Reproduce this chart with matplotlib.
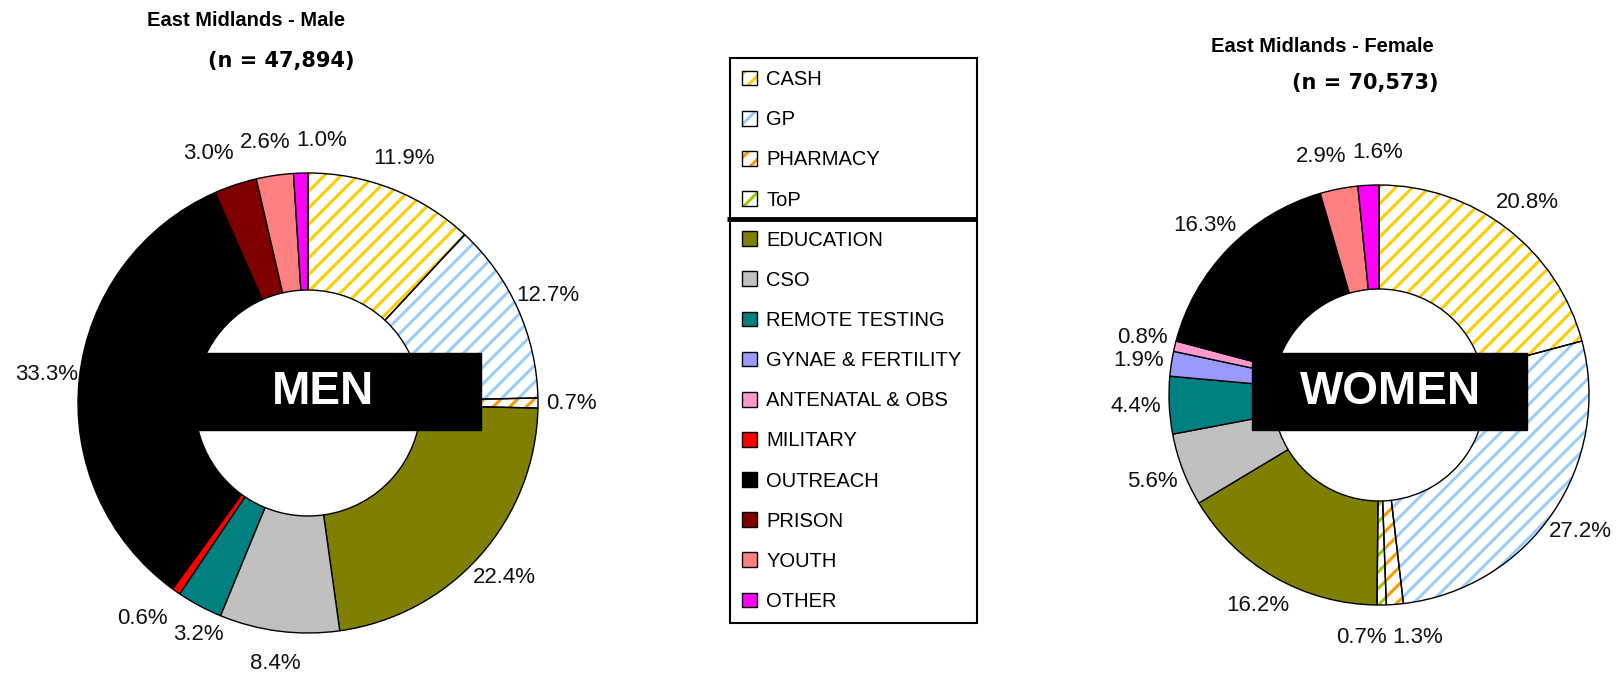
import numpy as np
import matplotlib
matplotlib.use("Agg")
import matplotlib.pyplot as plt
import matplotlib.patches as mpatches

plt.rcParams['font.family'] = ['Liberation Sans', 'DejaVu Sans']
plt.rcParams['hatch.linewidth'] = 2.2

# data
categories = ["CASH", "GP", "PHARMACY", "ToP", "EDUCATION", "CSO", "REMOTE TESTING",
              "GYNAE & FERTILITY", "ANTENATAL & OBS", "MILITARY", "OUTREACH",
              "PRISON", "YOUTH", "OTHER"]
male_pct = [11.9, 12.7, 0.7, 0.0, 22.4, 8.4, 3.2, 0.0, 0.0, 0.6, 33.3, 3.0, 2.6, 1.0]
female_pct = [20.8, 27.2, 1.3, 0.7, 16.2, 5.6, 4.4, 1.9, 0.8, 0.0, 16.3, 0.0, 2.9, 1.6]
male_title = ["East Midlands - Male", "(n = 47,894)"]
female_title = ["East Midlands - Female", "(n = 70,573)"]

colors = ["#FFCC00", "#99CCFF", "#FF9900", "#99CC00", "#808000", "#C0C0C0", "#008080",
          "#9999FF", "#FF99CC", "#FF0000", "#000000", "#800000", "#FF8080", "#FF00FF"]
hatched = [True, True, True, True] + [False] * 10

W, H = 1623, 682

fig = plt.figure(figsize=(W / 100, H / 100), dpi=100)
ax = fig.add_axes([0, 0, 1, 1])


def draw_donut(ax, values, center, radius, inner):
    """Excel-style doughnut: clockwise from 12 o'clock, returns label anchors"""
    idx = [i for i, v in enumerate(values) if v > 0]
    vals = [values[i] for i in idx]
    wedges, _ = ax.pie(vals, colors=[colors[i] for i in idx], startangle=90,
                       counterclock=False, radius=radius, center=center,
                       wedgeprops=dict(width=radius - inner, edgecolor='black', linewidth=1))
    labels = []
    for w, i in zip(wedges, idx):
        if hatched[i]:
            w.set_facecolor('white')
            w.set_edgecolor(colors[i])
            w.set_hatch('//')
            w.set_linewidth(0)
            ax.add_patch(mpatches.Wedge(w.center, w.r, w.theta1, w.theta2, width=w.width,
                                        fill=False, edgecolor='black', linewidth=1))
        ang = np.deg2rad((w.theta1 + w.theta2) / 2)
        t = ax.text(0, 0, f"{values[i]:.1f}%", ha='center', va='center',
                    fontsize=16, color='#111111')
        labels.append((t, np.cos(ang), np.sin(ang), center, radius))
    return labels


def place_labels(labels, gap=33, pad=6):
    """put each label just outside the ring, then push overlapping ones apart"""
    fig.canvas.draw()
    r = fig.canvas.get_renderer()
    boxes = []
    for t, ux, uy, c, rad in labels:
        bb = t.get_window_extent(r)
        boxes.append([c[0] + ux * (rad + gap), c[1] + uy * (rad + gap),
                      bb.width, bb.height * 0.8, abs(uy)])
    for _ in range(80):
        moved = False
        for a in range(len(boxes)):
            for b in range(a + 1, len(boxes)):
                xa, ya, wa, ha, va = boxes[a]
                xb, yb, wb, hb, vb = boxes[b]
                ox = (wa + wb) / 2 + pad - abs(xa - xb)
                oy = (ha + hb) / 2 + pad - abs(ya - yb)
                if ox > 0 and oy > 0:
                    moved = True
                    if (va + vb) / 2 > 0.7:
                        # top / bottom of the ring: spread sideways
                        s = 1 if xa < xb else -1
                        boxes[a][0] -= s * ox / 2
                        boxes[b][0] += s * ox / 2
                    else:
                        s = 1 if ya < yb else -1
                        boxes[a][1] -= s * oy / 2
                        boxes[b][1] += s * oy / 2
        if not moved:
            break
    for (t, *_), (x, y, *_) in zip(labels, boxes):
        t.set_position((x, y))


male_labels = draw_donut(ax, male_pct, (308, H - 403), 230, 113)
female_labels = draw_donut(ax, female_pct, (1379, H - 395), 210, 106)

ax.set_xlim(0, W)
ax.set_ylim(0, H)
ax.set_aspect('equal')
ax.axis('off')

place_labels(male_labels)
place_labels(female_labels)

# titles
ax.text(246, H - 21, male_title[0], ha='center', va='center', fontsize=14.5, fontweight='bold')
ax.text(281, H - 61, male_title[1], ha='center', va='center', fontsize=15, fontweight='bold',
        family='DejaVu Sans')
ax.text(1322, H - 46, female_title[0], ha='center', va='center', fontsize=14.5, fontweight='bold')
ax.text(1365, H - 83, female_title[1], ha='center', va='center', fontsize=15, fontweight='bold',
        family='DejaVu Sans')

# MEN / WOMEN boxes
ax.add_patch(mpatches.Rectangle((195, H - 430), 286, 77, color='black', zorder=5))
ax.text(272, H - 392, "MEN", ha='left', va='center', fontsize=33, fontweight='bold',
        color='white', zorder=6)
ax.add_patch(mpatches.Rectangle((1252, H - 430), 275, 77, color='black', zorder=5))
ax.text(1300, H - 392, "WOMEN", ha='left', va='center', fontsize=33, fontweight='bold',
        color='white', zorder=6)

# legend
handles = []
for c, h in zip(colors, hatched):
    if h:
        handles.append((mpatches.Patch(facecolor='white', edgecolor=c, hatch='//', linewidth=0),
                        mpatches.Patch(fill=False, edgecolor='black', linewidth=1)))
    else:
        handles.append(mpatches.Patch(facecolor=c, edgecolor='black', linewidth=1))
leg = ax.legend(handles, categories, loc='upper left', mode='expand',
                bbox_to_anchor=(730, H - 58, 247, 0), bbox_transform=ax.transData,
                borderaxespad=0, fontsize=14.5, handlelength=0.75, handleheight=0.75,
                handletextpad=0.45, labelspacing=1.05, borderpad=0.6,
                fancybox=False, framealpha=1, edgecolor='black')
leg.get_frame().set_linewidth(1.5)
leg.set_zorder(7)
ax.plot([727, 977], [H - 219, H - 219], color='black', linewidth=3.5, zorder=8,
        solid_capstyle='butt')

fig.savefig("out.png", dpi=100)
